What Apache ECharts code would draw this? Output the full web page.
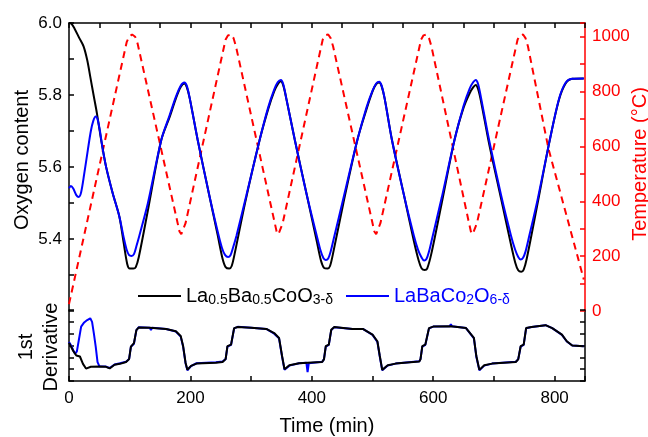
<!DOCTYPE html>
<html>
<head>
<meta charset="utf-8">
<script src="https://cdn.jsdelivr.net/npm/echarts@6/dist/echarts.min.js"></script>
<style>html,body{margin:0;padding:0;background:#fff;}#c{width:648px;height:437px;}</style>
</head>
<body>
<div id="c"></div>
<script>
// Temperature profile [time (min), T (°C)]
const temperature = [[0,25],[90,930],[95,980],[99,1000],[104,1008],[109,1000],[113,975],[178,330],[182,290],[185,280],[188,285],[192,320],[254,950],[258,990],[262,1005],[267,1008],[271,995],[275,965],[338,330],[342,290],[345,280],[348,285],[352,320],[414,950],[418,990],[422,1005],[427,1008],[431,995],[435,965],[499,330],[503,290],[506,280],[509,285],[513,320],[576,950],[580,990],[584,1005],[589,1008],[593,995],[597,965],[658,330],[662,290],[665,280],[668,285],[672,320],[735,950],[739,990],[743,1005],[748,1008],[752,995],[756,965],[790,590],[848,115]];

// Oxygen content, La0.5Ba0.5CoO3-δ
const oxyLBCO = [[0,6.000],[4,5.998],[9,5.985],[17,5.958],[24,5.935],[30,5.897],[35,5.851],[41,5.795],[46,5.749],[53,5.675],[61,5.601],[72,5.527],[83,5.462],[90,5.39],[96,5.33],[100,5.318],[106,5.318],[110,5.322],[115,5.35],[130,5.48],[152,5.675],[166,5.74],[176,5.79],[184,5.822],[190,5.832],[194,5.822],[199,5.79],[212,5.675],[230,5.53],[245,5.41],[253,5.345],[258,5.322],[264,5.318],[268,5.325],[273,5.36],[290,5.5],[314,5.675],[328,5.76],[338,5.81],[344,5.83],[349,5.838],[353,5.826],[358,5.79],[372,5.675],[392,5.52],[408,5.395],[415,5.34],[420,5.32],[426,5.318],[430,5.325],[435,5.36],[452,5.5],[475,5.675],[490,5.76],[500,5.81],[506,5.83],[511,5.835],[515,5.824],[520,5.79],[532,5.675],[552,5.52],[568,5.395],[576,5.34],[581,5.318],[586,5.314],[590,5.318],[597,5.36],[614,5.5],[635,5.675],[650,5.765],[660,5.805],[666,5.822],[670,5.828],[674,5.816],[679,5.78],[692,5.665],[712,5.51],[728,5.385],[735,5.335],[740,5.313],[745,5.309],[749,5.315],[754,5.345],[772,5.5],[791,5.667],[807,5.786],[818,5.832],[829,5.845],[848,5.846]];

// Oxygen content, LaBaCo2O6-δ
const oxyLBCO2 = [[0,5.541],[3,5.547],[7,5.54],[12,5.522],[16,5.517],[20,5.53],[25,5.58],[31,5.647],[36,5.70],[40,5.728],[44,5.74],[47,5.733],[51,5.70],[55,5.655],[61,5.601],[72,5.527],[83,5.462],[90,5.405],[95,5.37],[99,5.355],[103,5.353],[107,5.358],[111,5.38],[116,5.41],[130,5.50],[152,5.675],[166,5.745],[176,5.795],[184,5.826],[190,5.835],[194,5.826],[199,5.79],[212,5.675],[230,5.53],[245,5.42],[252,5.375],[257,5.356],[262,5.35],[266,5.355],[270,5.375],[276,5.41],[292,5.52],[314,5.675],[328,5.765],[338,5.815],[344,5.836],[349,5.842],[353,5.83],[358,5.79],[372,5.675],[392,5.52],[408,5.41],[414,5.37],[419,5.347],[423,5.342],[427,5.346],[431,5.365],[436,5.40],[453,5.52],[475,5.675],[490,5.765],[500,5.812],[506,5.832],[511,5.837],[515,5.826],[520,5.79],[532,5.675],[552,5.52],[568,5.41],[575,5.37],[581,5.348],[585,5.34],[589,5.345],[593,5.365],[598,5.40],[614,5.515],[635,5.675],[650,5.77],[660,5.818],[666,5.836],[670,5.842],[674,5.83],[679,5.79],[692,5.675],[712,5.52],[728,5.41],[735,5.37],[740,5.35],[744,5.343],[748,5.348],[752,5.365],[757,5.40],[772,5.51],[791,5.667],[807,5.788],[818,5.834],[829,5.845],[848,5.846]];

// 1st derivative (arbitrary units, 0-6 frame)
const derivLBCO = [[0,3.22],[3,3.1],[7,2.53],[12,2.15],[18,2.07],[23,1.45],[28,1.05],[31,1.0],[36,1.2],[50,1.22],[61,1.2],[67,1.06],[75,1.38],[84,1.45],[94,1.6],[99,1.85],[102,2.9],[107,3.2],[111,4.3],[115,4.53],[133,4.5],[160,4.4],[176,4.2],[184,3.8],[188,2.95],[192,1.55],[195,0.95],[201,1.28],[210,1.47],[242,1.55],[253,1.6],[258,1.85],[261,2.94],[267,3.08],[272,4.47],[278,4.56],[300,4.5],[325,4.4],[338,4.05],[346,3.64],[351,2.11],[355,1.0],[363,1.33],[379,1.5],[400,1.56],[417,1.61],[420,1.83],[423,2.94],[428,3.08],[432,4.33],[437,4.56],[467,4.4],[484,4.4],[500,3.92],[508,3.36],[512,2.11],[516,0.94],[525,1.33],[538,1.47],[577,1.64],[579,1.83],[582,2.94],[587,3.08],[593,4.47],[600,4.6],[629,4.62],[654,4.47],[667,3.64],[671,2.11],[676,0.94],[684,1.33],[697,1.47],[736,1.61],[740,1.83],[744,2.94],[749,3.08],[753,4.47],[762,4.56],[785,4.72],[796,4.47],[812,3.92],[820,3.36],[829,3.0],[848,2.94]];

const derivLBCO2 = [[0,3.3],[3,3.05],[7,2.6],[10,2.3],[13,2.5],[16,3.4],[20,4.6],[25,4.95],[30,5.15],[35,5.3],[38,5.0],[41,4.0],[44,2.9],[47,1.6],[50,1.25],[61,1.22],[67,1.1],[75,1.4],[84,1.5],[94,1.62],[99,1.85],[102,2.9],[107,3.15],[111,4.3],[115,4.55],[133,4.5],[135,4.3],[137,4.5],[160,4.4],[176,4.18],[184,3.75],[188,2.9],[192,1.5],[195,0.9],[201,1.25],[210,1.5],[242,1.58],[253,1.65],[258,1.85],[261,2.9],[267,3.05],[272,4.45],[278,4.58],[300,4.5],[325,4.4],[338,4.0],[346,3.6],[351,2.05],[355,0.95],[363,1.3],[379,1.5],[391,1.55],[393,0.75],[395,1.5],[417,1.62],[420,1.85],[423,2.9],[428,3.05],[432,4.3],[437,4.55],[467,4.4],[484,4.4],[500,3.9],[508,3.3],[512,2.05],[516,0.9],[525,1.3],[538,1.47],[577,1.66],[579,1.85],[582,2.9],[587,3.05],[593,4.45],[600,4.6],[627,4.62],[629,4.8],[631,4.62],[654,4.47],[667,3.6],[671,2.05],[676,0.9],[684,1.3],[697,1.47],[736,1.63],[740,1.85],[744,2.9],[749,3.05],[753,4.45],[762,4.56],[785,4.72],[796,4.47],[812,3.9],[820,3.34],[829,3.0],[848,2.94]];

const xTickLabels = [0, 200, 400, 600, 800];
const oxyTickLabels = [5.4, 5.6, 5.8, 6.0];
const tempTickLabels = [0, 200, 400, 600, 800, 1000];

const nameA = 'La0.5Ba0.5CoO3-δ';
const nameB = 'LaBaCo2O6-δ';

const FONT = 'Arial, "Liberation Sans", sans-serif';
const chart = echarts.init(document.getElementById('c'), null, {renderer: 'canvas'});

const axLine = (c) => ({show: true, onZero: false, lineStyle: {color: c, width: 1.5}});
const tick = (c) => ({show: true, inside: true, length: 5, lineStyle: {color: c, width: 1.5}});

chart.setOption({
  animation: false,
  backgroundColor: '#fff',
  grid: [
    {left: 69, top: 23, width: 516, height: 288, containLabel: false},
    {left: 69, top: 310, width: 516, height: 72, containLabel: false}
  ],
  xAxis: [
    {gridIndex: 0, type: 'value', position: 'top', min: 0, max: 850, interval: 50,
     axisLine: axLine('#000'), axisTick: tick('#000'), axisLabel: {show: false}, splitLine: {show: false}},
    {gridIndex: 1, type: 'value', position: 'bottom', min: 0, max: 850, interval: 100,
     axisLine: axLine('#000'), axisTick: tick('#000'), splitLine: {show: false},
     axisLabel: {show: true, margin: 9, color: '#000', fontSize: 17, fontFamily: FONT,
       formatter: v => xTickLabels.indexOf(v) >= 0 ? String(v) : ''},
     name: 'Time (min)', nameLocation: 'middle', nameGap: 35,
     nameTextStyle: {color: '#000', fontSize: 20, fontFamily: FONT}}
  ],
  yAxis: [
    {gridIndex: 0, type: 'value', position: 'left', min: 5.2, max: 6.0, interval: 0.1,
     axisLine: axLine('#000'), axisTick: tick('#000'), splitLine: {show: false},
     axisLabel: {show: true, margin: 7, color: '#000', fontSize: 17, fontFamily: FONT,
       formatter: v => oxyTickLabels.some(t => Math.abs(t - v) < 1e-6) ? v.toFixed(1) : ''}},
    {gridIndex: 0, type: 'value', position: 'right', min: 0, max: 1050, interval: 100,
     axisLine: axLine('#ff0000'), axisTick: tick('#ff0000'), splitLine: {show: false},
     axisLabel: {show: true, margin: 7, color: '#ff0000', fontSize: 17, fontFamily: FONT,
       formatter: v => tempTickLabels.indexOf(v) >= 0 ? String(v) : ''}},
    {gridIndex: 1, type: 'value', position: 'left', min: 0, max: 6, interval: 1,
     axisLine: axLine('#000'), axisTick: tick('#000'), axisLabel: {show: false}, splitLine: {show: false}},
    {gridIndex: 1, type: 'value', position: 'right', min: 0, max: 6, interval: 1,
     axisLine: axLine('#000'), axisTick: tick('#000'), axisLabel: {show: false}, splitLine: {show: false}}
  ],
  legend: {
    show: true, left: 133, top: 281, itemWidth: 43, itemHeight: 2, itemGap: 13,
    icon: 'rect',
    data: [{name: nameA, icon: 'rect'}, {name: nameB, icon: 'rect'}],
    textStyle: {
      fontFamily: FONT,
      rich: {
        m: {fontSize: 20, fontFamily: FONT, color: '#000', lineHeight: 22},
        s: {fontSize: 14, fontFamily: FONT, color: '#000', lineHeight: 5, verticalAlign: 'bottom'},
        bm: {fontSize: 20, fontFamily: FONT, color: '#0000ff', lineHeight: 22},
        bs: {fontSize: 14, fontFamily: FONT, color: '#0000ff', lineHeight: 5, verticalAlign: 'bottom'}
      }
    },
    formatter: function (n) {
      if (n === nameA) return '{m|La}{s|0.5}{m|Ba}{s|0.5}{m|CoO}{s|3-δ}';
      return '{bm|LaBaCo}{bs|2}{bm|O}{bs|6-δ}';
    }
  },
  graphic: [
    {type: 'text', x: 22, y: 160, rotation: Math.PI / 2,
     style: {text: 'Oxygen content', font: '20px ' + FONT, fill: '#000', textAlign: 'center', textVerticalAlign: 'middle', align: 'center', verticalAlign: 'middle'}},
    {type: 'text', x: 39, y: 347, rotation: Math.PI / 2,
     style: {text: '1st\nDerivative', font: '20px ' + FONT, lineHeight: 25, fill: '#000', textAlign: 'center', textVerticalAlign: 'middle', align: 'center', verticalAlign: 'middle'}},
    {type: 'text', x: 640, y: 164, rotation: Math.PI / 2,
     style: {text: 'Temperature (°C)', font: '20px ' + FONT, fill: '#ff0000', textAlign: 'center', textVerticalAlign: 'middle', align: 'center', verticalAlign: 'middle'}}
  ],
  series: [
    {name: 'Temperature', type: 'line', xAxisIndex: 0, yAxisIndex: 1, data: temperature,
     symbol: 'none', lineStyle: {color: '#ff0000', width: 2, type: [7, 5]}, z: 1},
    {name: nameA, type: 'line', xAxisIndex: 0, yAxisIndex: 0, data: oxyLBCO,
     symbol: 'none', smooth: 0.3, itemStyle: {color: '#000'}, lineStyle: {color: '#000', width: 2}, z: 2},
    {name: nameB, type: 'line', xAxisIndex: 0, yAxisIndex: 0, data: oxyLBCO2,
     symbol: 'none', smooth: 0.3, itemStyle: {color: '#0000ff'}, lineStyle: {color: '#0000ff', width: 2}, z: 3},
    {name: 'dB', type: 'line', xAxisIndex: 1, yAxisIndex: 2, data: derivLBCO2,
     symbol: 'none', lineStyle: {color: '#0000ff', width: 2}, z: 2},
    {name: 'dA', type: 'line', xAxisIndex: 1, yAxisIndex: 2, data: derivLBCO,
     symbol: 'none', lineStyle: {color: '#000', width: 2}, z: 3}
  ]
});
</script>
</body>
</html>
